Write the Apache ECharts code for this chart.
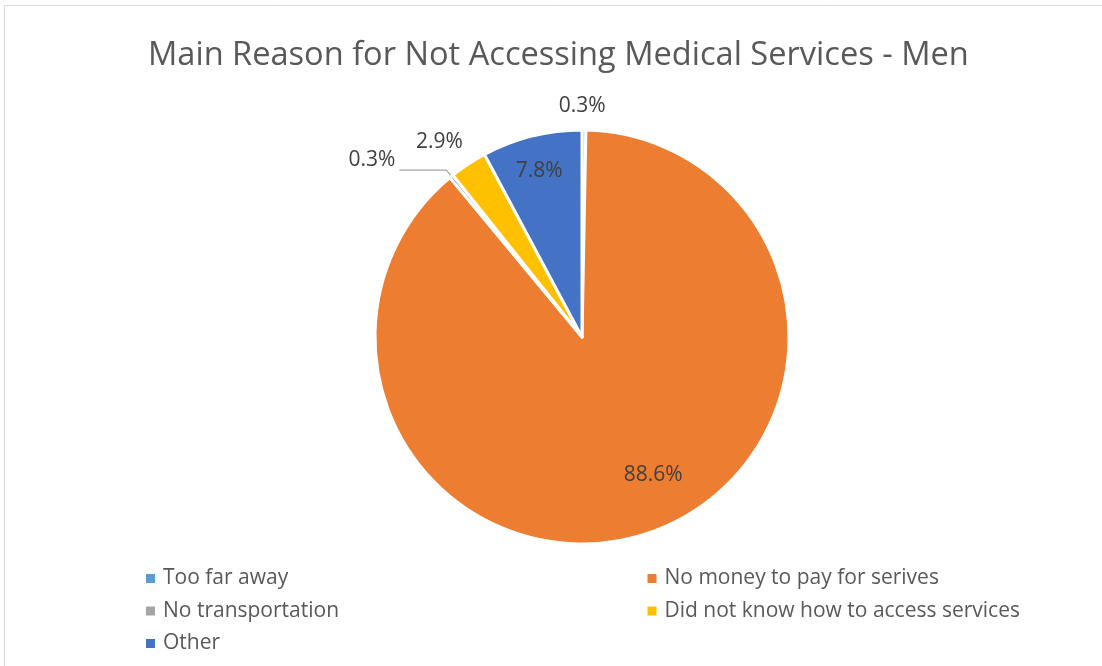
<!DOCTYPE html>
<html>
<head>
<meta charset="utf-8">
<title>Main Reason for Not Accessing Medical Services - Men</title>
<script src="https://cdn.jsdelivr.net/npm/echarts@6/dist/echarts.min.js"></script>
<style>
  html, body { margin: 0; padding: 0; background: #ffffff; }
  #chart { width: 1102px; height: 666px; }
</style>
</head>
<body>
<div id="chart"></div>
<script>
// Reasons, in the order the slices run clockwise from twelve o'clock
const categories = [
  'Too far away',
  'No money to pay for serives',
  'No transportation',
  'Did not know how to access services',
  'Other'
];
// Share of men giving each reason (%)
const shares = [0.3, 88.6, 0.3, 2.9, 7.8];
const sliceColors = ['#5B9BD5', '#ED7D31', '#A5A5A5', '#FFC000', '#4472C4'];

// Legend columns
const legendLeft = [categories[0], categories[2], categories[4]];
const legendRight = [categories[1], categories[3]];

const FONT = '"Open Sans", "Noto Sans", sans-serif';

// Label placement per slice
const labelSetup = [
  { position: 'outside', line: false, length: 24, length2: 0, distance: 0 },
  { position: 'inside' },
  { position: 'outside', line: true, length: 8, length2: 47, distance: 4 },
  { position: 'outside', line: false, length: 26, length2: 0, distance: 5 },
  { position: 'inside' }
];
const labelNudge = [
  { align: 'center', dx: -2 },
  { dx: 36, dy: 37 },
  { verticalAlign: 'bottom' },
  { dx: 14 },
  { dx: -17, dy: -63 }
];

const chart = echarts.init(document.getElementById('chart'), null, { renderer: 'canvas' });

const pieData = categories.map((name, i) => {
  const s = labelSetup[i];
  return {
    name: name,
    value: shares[i],
    itemStyle: { color: sliceColors[i] },
    label: {
      position: s.position,
      distanceToLabelLine: s.distance != null ? s.distance : 5
    },
    labelLine: {
      show: !!s.line,
      length: s.length || 0,
      length2: s.length2 || 0,
      lineStyle: { color: '#A6A6A6', width: 1.2 }
    }
  };
});

const legendCommon = {
  orient: 'vertical',
  icon: 'rect',
  itemWidth: 9,
  itemHeight: 9,
  itemGap: 11.5,
  top: 568,
  padding: 0,
  selectedMode: false,
  itemStyle: { borderWidth: 0 },
  textStyle: { fontFamily: FONT, fontSize: 21, color: '#595959', lineHeight: 20, padding: [0, 0, 0, 3] }
};

chart.setOption({
  animation: false,
  backgroundColor: '#ffffff',
  title: {
    text: 'Main Reason for Not Accessing Medical Services - Men',
    left: 143,
    top: 34,
    textStyle: { fontFamily: FONT, fontSize: 32.6, fontWeight: 'normal', color: '#595959' }
  },
  graphic: [{
    type: 'rect',
    shape: { x: 4.5, y: 5.5, width: 1200, height: 800 },
    style: { fill: 'none', stroke: '#D9D9D9', lineWidth: 1 },
    silent: true
  }],
  legend: [
    Object.assign({ left: 146, data: legendLeft }, legendCommon),
    Object.assign({ left: 647.5, data: legendRight }, legendCommon)
  ],
  series: [{
    type: 'pie',
    center: [582, 337],
    radius: 207,
    startAngle: 90,
    clockwise: true,
    avoidLabelOverlap: false,
    minShowLabelAngle: 0,
    itemStyle: { borderColor: '#ffffff', borderWidth: 3 },
    emphasis: { disabled: true },
    label: {
      show: true,
      fontFamily: FONT,
      fontSize: 21,
      color: '#404040',
      formatter: p => p.value.toFixed(1) + '%'
    },
    labelLayout: params => labelNudge[params.dataIndex],
    data: pieData
  }]
});
</script>
</body>
</html>
